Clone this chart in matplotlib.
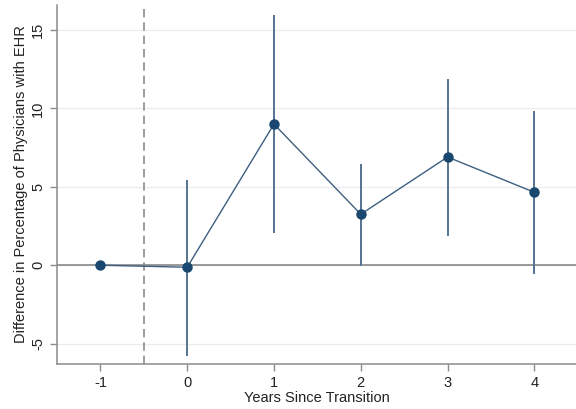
import matplotlib
matplotlib.use("Agg")
import matplotlib.pyplot as plt

plt.rcParams['font.family'] = ['Liberation Sans', 'DejaVu Sans']

# --- Data (event study estimates) ---
years = [-1, 0, 1, 2, 3, 4]
coef = [0.0, -0.13, 9.0, 3.25, 6.9, 4.65]
ci_low = [None, -5.7, 2.1, 0.0, 1.9, -0.5]
ci_high = [None, 5.4, 15.9, 6.4, 11.8, 9.8]
yticks = [-5, 0, 5, 10, 15]

navy = '#1a476f'
ci_col = '#557390'
axis_col = '#8c8c8c'

fig, ax = plt.subplots(figsize=(5.76, 4.09), dpi=100)
fig.subplots_adjust(left=0.099, right=1.0, top=0.988, bottom=0.11)

# --- grid and reference lines ---
for t in yticks:
    ax.axhline(t, color='#ececec', lw=0.9, zorder=0)
ax.axhline(0, color='#7f7f7f', lw=1.1, zorder=1)
ax.axvline(-0.5, color='#8c8c8c', lw=1.2, ls=(0, (5, 3)), zorder=1)

# --- confidence intervals ---
for x, lo, hi in zip(years, ci_low, ci_high):
    if lo is None:
        continue
    ax.plot([x, x], [lo, hi], color=ci_col, lw=1.4, zorder=2)

# --- estimates ---
ax.plot(years, coef, color='#3d5f80', lw=1.0, zorder=3)
ax.plot(years, coef, 'o', color=navy, ms=6.5, zorder=4)

ax.set_xlim(-1.5, 4.48)
ax.set_ylim(-6.3, 16.6)
ax.set_xticks(years)
ax.set_xticklabels([str(y) for y in years])
ax.set_yticks(yticks)
ax.set_yticklabels([str(t) for t in yticks], rotation=90, va='center')

for s in ['top', 'right']:
    ax.spines[s].set_visible(False)
for s in ['left', 'bottom']:
    ax.spines[s].set_color(axis_col)
    ax.spines[s].set_linewidth(1.1)
ax.tick_params(colors='#222222', labelsize=10.5, length=5, width=1.0)
ax.tick_params(axis='both', color=axis_col)

ax.set_xlabel('Years Since Transition', fontsize=10.5, labelpad=1, color='#222222')
ax.set_ylabel('Difference in Percentage of Physicians with EHR', fontsize=10.5,
              labelpad=2, color='#222222')

plt.savefig('out.png', dpi=100)
